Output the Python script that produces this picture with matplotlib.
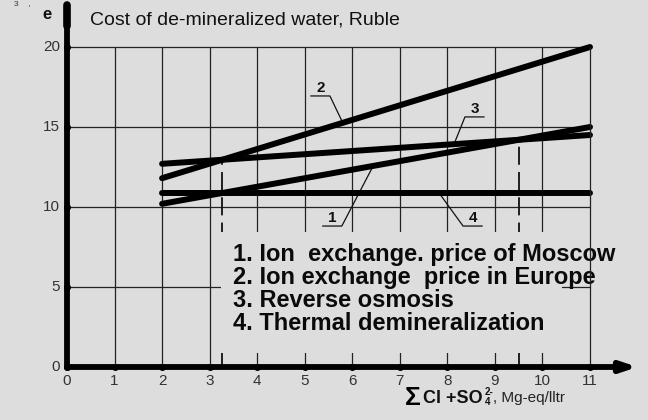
"""Cost of de-mineralized water vs. salt content, four treatment methods."""

import numpy as np
import matplotlib.pyplot as plt
from matplotlib.patches import Rectangle

plt.rcParams["font.family"] = ["Liberation Sans", "DejaVu Sans"]

# --- data ------------------------------------------------------------------
x_ends = [2, 11]                       # salt content range, Mg-eq/l
moscow_ion = [10.2, 15.0]              # 1. ion exchange, Moscow prices
europe_ion = [11.8, 20.0]              # 2. ion exchange, European prices
reverse_osmosis = [12.7, 14.5]         # 3. reverse osmosis
thermal = [10.9, 10.9]                 # 4. thermal demineralization

x_ticks = list(range(0, 12))
y_ticks = [0, 5, 10, 15, 20]
legend_lines = [
    "1. Ion  exchange. price of Moscow",
    "2. Ion exchange  price in Europe",
    "3. Reverse osmosis",
    "4. Thermal demineralization",
]
title = "Cost of de-mineralized water, Ruble"

BG = "#dddddd"

fig = plt.figure(figsize=(6.48, 4.2), dpi=100, facecolor=BG)
ax = fig.add_axes([0, 0, 1, 1])
ax.set_facecolor(BG)
# full-figure axes: x=0 at 67 px, x=11 at 590 px; y=0 at 367 px, y=20 at 47 px
ax.set_xlim(-67 / 47.545, (648 - 67) / 47.545)
ax.set_ylim(-53 / 16, 367 / 16)
ax.axis("off")

# grid (the last vertical runs over the text block, as in the original)
ax.vlines(x_ticks[1:-1], 0, y_ticks[-1], color="#222222", lw=0.9, zorder=1)
ax.vlines(x_ticks[-1], 0, y_ticks[-1], color="#222222", lw=0.9, zorder=7)
ax.hlines(y_ticks[1:], 0, x_ticks[-1], color="#222222", lw=0.9, zorder=1)


def crossing(ya, yb):
    # x where two straight series meet
    sa = (ya[1] - ya[0]) / (x_ends[1] - x_ends[0])
    sb = (yb[1] - yb[0]) / (x_ends[1] - x_ends[0])
    xc = x_ends[0] + (yb[0] - ya[0]) / (sa - sb)
    return xc, np.interp(xc, x_ends, ya)


# dashed markers at the break-even points
for ya, yb in [(europe_ion, reverse_osmosis), (moscow_ion, reverse_osmosis)]:
    xc, yc = crossing(ya, yb)
    ax.plot([xc, xc], [0, yc], color="#111111", lw=1.3,
            dashes=(10, 4), zorder=1)

# box behind the text block
ax.add_patch(Rectangle((3.24, 0.875), 7.17, 7.57, facecolor=BG,
                       edgecolor="none", zorder=2))

# the four cost lines
for ys in [moscow_ion, europe_ion, reverse_osmosis, thermal]:
    ax.plot(x_ends, ys, color="black", lw=4.3, solid_capstyle="round",
            zorder=4)

# number labels with leader lines: (series, touch x, elbow, underline end)
leaders = [
    ("2", europe_ion, 5.80, (5.53, 16.94), 5.13),
    ("3", reverse_osmosis, 8.14, (8.37, 15.63), 8.77),
    ("1", moscow_ion, 6.44, (5.78, 8.81), 5.38),
    ("4", thermal, 7.82, (8.33, 8.81), 8.73),
]
for lbl, ys, xt, (xe, ye), xu in leaders:
    yt = np.interp(xt, x_ends, ys)
    ax.plot([xt, xe, xu], [yt, ye, ye], color="#111111", lw=0.9, zorder=3)
    ax.text((xe + xu) / 2, ye + 0.5, lbl, ha="center", va="center",
            fontsize=11, fontweight="bold", color="#111111", zorder=5)

# axes with arrows
ax.plot([0, 0], [0, 21.6], color="black", lw=4.2, solid_capstyle="round",
        zorder=5)
ax.plot([0, 0], [21.3, 22.6], color="black", lw=5.5, solid_capstyle="round",
        zorder=5)
ax.annotate("", xy=(12.0, 0), xytext=(0, 0), zorder=8,
            arrowprops=dict(arrowstyle="-|>,head_length=0.9,head_width=0.3",
                            color="black", lw=4.2, shrinkA=0, shrinkB=0))
ax.plot(x_ticks, [0] * len(x_ticks), "o", color="black", ms=4, zorder=9)
ax.plot([0] * len(y_ticks), y_ticks, "o", color="black", ms=4, zorder=9)

# tick labels
for xv in x_ticks:
    ax.text(xv, -0.875, str(xv), ha="center", va="center", fontsize=11,
            color="#333333")
for yv in y_ticks:
    ax.text(-0.15, yv, str(yv), ha="right", va="center", fontsize=11,
            color="#333333")

# titles
ax.text(0.484, 21.69, title, ha="left", va="center", fontsize=14,
        color="#111111")
ax.text(-0.42, 22.06, "e", ha="center", va="center", fontsize=12,
        fontweight="bold", color="#111111")
ax.text(-0.95, 22.94, "3    ,", ha="center", va="top", fontsize=6,
        color="#333333")

# legend block
for i, line in enumerate(legend_lines):
    ax.text(3.49, 7.06 - i * 1.44, line, ha="left", va="center",
            fontsize=17, fontweight="bold", color="#0a0a0a", zorder=6)

# x axis label: sum Cl + SO4(2-), Mg-eq/l
ax.text(7.1, -1.95, "Σ", ha="left", va="center", fontsize=19,
        fontweight="bold", color="black")
ax.text(7.49, -1.95, "Cl +SO", ha="left", va="center", fontsize=13,
        fontweight="bold", color="#111111")
ax.text(8.78, -1.55, "2-", ha="left", va="center", fontsize=7,
        fontweight="bold", color="#111111")
ax.text(8.78, -2.20, "4", ha="left", va="center", fontsize=7,
        fontweight="bold", color="#111111")
ax.text(8.95, -1.95, ", Mg-eq/lltr", ha="left", va="center", fontsize=11,
        color="#222222")

fig.savefig("out.png", dpi=100, facecolor=BG)
